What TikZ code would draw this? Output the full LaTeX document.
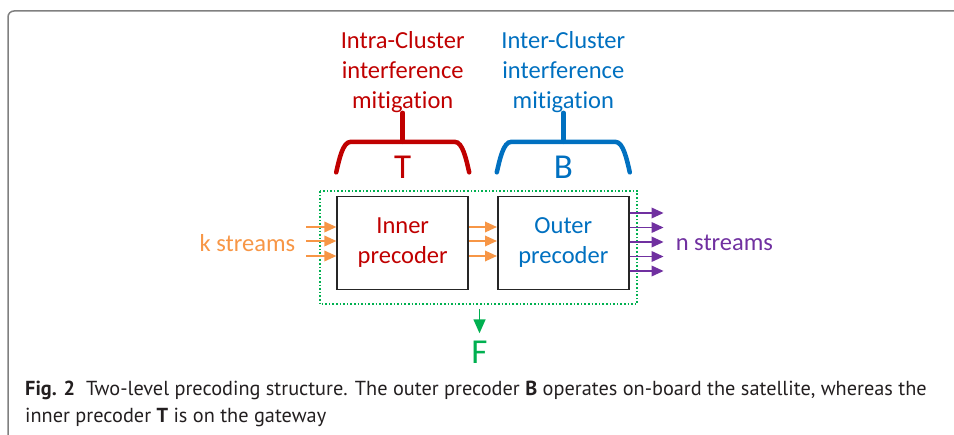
\documentclass[tikz,border=0pt]{standalone}
\usepackage{fontspec}
\setmainfont{Carlito}[Ligatures=NoCommon]
\newfontfamily\capfont{PT Sans}
\usetikzlibrary{arrows.meta,positioning}

\definecolor{clred}{HTML}{C00000}
\definecolor{clblue}{HTML}{0070C0}
\definecolor{clorange}{HTML}{F79646}
\definecolor{clpurple}{HTML}{7030A0}
\definecolor{clgreen}{HTML}{00B050}
\definecolor{capgray}{HTML}{231F20}

\begin{document}
\begin{tikzpicture}[x=1pt,y=1pt]

  \tikzset{main node/.style={rectangle, draw=black!85, line width=1.6pt,
  		minimum width=131pt, minimum height=93pt, align=center,
  		font=\fontsize{24.5}{30}\selectfont}, }
  \tikzset{text node/.style={align=center, inner sep=0pt,
  		font=\fontsize{24.5}{30}\selectfont}, }
  \tikzset{big node/.style={inner sep=0pt, font=\fontsize{35}{35}\selectfont}, }
  \tikzset{llave/.style={line width=4.5pt, line cap=round}, }
  \tikzset{linea/.style={line width=1.8pt, -{Triangle[length=12pt,width=10.5pt]}}, }

  \useasboundingbox (0,0) rectangle (954,-435);
  \draw[gray, line width=1.5pt, rounded corners=6pt] (954,-11) -- (8,-11) -- (8,-435);

    \node[main node, text=clred] (inner) at (402.7,-243) {Inner\\precoder};
    \node[main node, text=clblue] (outer) [right=28pt of inner] {Outer\\precoder};

    \node[big node, text=clred] (T) [above=16.5pt of inner] {T};
    \node[big node, text=clblue] (B) [above=16.5pt of outer] {B};
    \coordinate[above=14.5pt of T] (Tbar);
    \coordinate[above=14.5pt of B] (Bbar);
    \node[text node, text=clred] (intra) [above=29pt of Tbar]
      {Intra-Cluster\\interference\\mitigation};
    \node[text node, text=clblue] (inter) [above=29pt of Bbar]
      {Inter-Cluster\\interference\\mitigation};

    \node[text node, text=clorange] (kin) [left=41pt of inner] {k streams};
    \node[text node, text=clpurple] (nout) [right=46pt of outer] {n streams};

    \coordinate (fnw) at ([xshift=-16.7pt,yshift=4.7pt]inner.north west);
    \coordinate (fse) at ([xshift=7.6pt,yshift=-14pt]outer.south east);
    \coordinate (ftop) at ([xshift=10.5pt,yshift=-5pt]inner.east |- fse);
    \node[big node, text=clgreen] (F) [below=32pt of ftop] {F};

\draw[clgreen, line width=1.6pt, dash pattern=on 1.6pt off 2pt] (fnw) rectangle (fse);

\foreach \n/\c in {T/clred,B/clblue}
  \draw[llave, \c] ([xshift=-66.5pt,yshift=-30.5pt]\n bar)
    .. controls +(3,13) and +(-8,0) .. ([xshift=-52pt]\n bar)
    -- ([xshift=52pt]\n bar)
    .. controls +(8,0) and +(-3,13) .. ([xshift=66.5pt,yshift=-30.5pt]\n bar);
\draw[llave, clred] (intra.south) -- (Tbar);
\draw[llave, clblue] (inter.south) -- (Bbar);

\foreach \d [count=\i] in {16,2,-13}{
  \coordinate (k\i) at ([xshift=-30pt,yshift=\d pt]inner.west);
  \draw[linea, clorange] (k\i) -- (k\i -| inner.west);
  \draw[linea, clorange] ([yshift=\d pt]inner.east) -- ([yshift=\d pt]outer.west);
}
\foreach \d [count=\i] in {30,15.5,1,-13.5,-28}{
  \coordinate (n\i) at ([xshift=34pt,yshift=\d pt]outer.east);
  \draw[linea, clpurple] ([yshift=\d pt]outer.east) -- (n\i);
}
\draw[clgreen, line width=1.5pt, -{Triangle[length=14pt,width=12pt]},
  shorten >=8pt] (ftop) -- (F.north);

    \node[anchor=base west, inner sep=0pt, align=left, text=capgray,
      font=\capfont\fontsize{20.3}{26.7}\selectfont] (cap) at (25,-422.7)
      {\textbf{Fig. 2}\ \ Two-level precoding structure. The outer precoder \textbf{B} operates on-board the satellite, whereas the\\
       inner precoder \textbf{T} is on the gateway};
%%
\end{tikzpicture}
\end{document}
